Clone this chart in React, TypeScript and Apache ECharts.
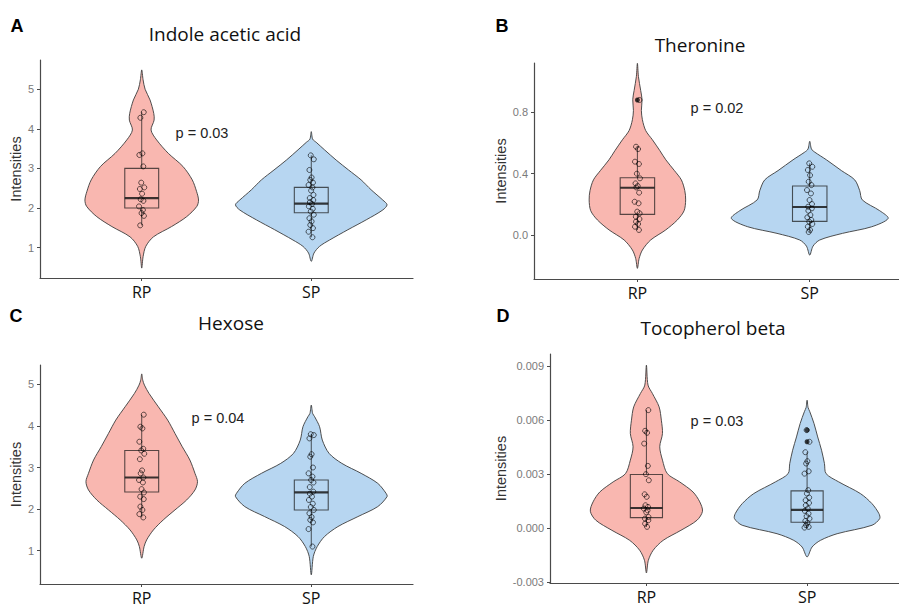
import React, { useEffect, useRef } from 'react';
import * as echarts from 'echarts';

const categories = ['RP', 'SP'];

// ---------- Panel A: Indole acetic acid ----------
const iaaRP = [4.42, 4.28, 3.38, 3.34, 3.05, 2.64, 2.52, 2.48, 2.36, 2.22, 2.18, 2.04, 1.95, 1.87, 1.8, 1.56];
const iaaSP = [3.33, 3.23, 2.96, 2.77, 2.71, 2.64, 2.58, 2.52, 2.44, 2.33, 2.25, 2.2, 2.15, 2.1, 2.04, 1.98, 1.91, 1.83, 1.74, 1.66, 1.57, 1.49, 1.4, 1.26];
const iaaBoxRP = [1.56, 2.0, 2.25, 3.0, 4.42];
const iaaBoxSP = [1.26, 1.88, 2.11, 2.52, 3.33];
const iaaOutRP: number[] = [];
const iaaOutSP: number[] = [];
// violin profile: [value, half-width in category units]
const iaaViolinRP = [[5.49, 0], [5.24, 0.008], [5.0, 0.02], [4.73, 0.049], [4.39, 0.071], [4.22, 0.073], [3.97, 0.055], [3.72, 0.088], [3.38, 0.157], [3.05, 0.243], [2.71, 0.298], [2.41, 0.324], [2.2, 0.335], [2.04, 0.325], [1.78, 0.265], [1.53, 0.176], [1.27, 0.069], [1.03, 0.024], [0.77, 0.008], [0.48, 0]];
const iaaViolinSP = [[3.93, 0], [3.74, 0.008], [3.66, 0.029], [3.47, 0.078], [3.21, 0.147], [2.96, 0.22], [2.71, 0.294], [2.46, 0.353], [2.2, 0.422], [2.08, 0.447], [1.95, 0.422], [1.7, 0.324], [1.45, 0.216], [1.19, 0.108], [1.03, 0.049], [0.86, 0.016], [0.65, 0]];
const iaaTicks = [1, 2, 3, 4, 5];

// ---------- Panel B: Theronine ----------
const thrRP = [0.878, 0.575, 0.56, 0.478, 0.463, 0.4, 0.37, 0.337, 0.32, 0.311, 0.277, 0.218, 0.208, 0.154, 0.143, 0.121, 0.106, 0.089, 0.074, 0.056, 0.035];
const thrSP = [0.467, 0.445, 0.424, 0.39, 0.348, 0.326, 0.294, 0.272, 0.229, 0.203, 0.186, 0.175, 0.16, 0.132, 0.117, 0.1, 0.089, 0.074, 0.056, 0.035, 0.022];
const thrBoxRP = [0.035, 0.136, 0.309, 0.374, 0.575];
const thrBoxSP = [0.022, 0.091, 0.184, 0.32, 0.467];
const thrOutRP = [0.878];
const thrOutSP: number[] = [];
const thrViolinRP = [[1.116, 0], [1.03, 0.006], [0.94, 0.019], [0.88, 0.027], [0.81, 0.023], [0.75, 0.029], [0.68, 0.048], [0.62, 0.087], [0.55, 0.13], [0.49, 0.165], [0.42, 0.215], [0.36, 0.255], [0.29, 0.275], [0.23, 0.28], [0.16, 0.271], [0.1, 0.232], [0.035, 0.164], [-0.03, 0.077], [-0.095, 0.029], [-0.15, 0.01], [-0.214, 0]];
const thrViolinSP = [[0.61, 0], [0.56, 0.01], [0.54, 0.029], [0.49, 0.097], [0.42, 0.184], [0.36, 0.261], [0.29, 0.29], [0.23, 0.305], [0.16, 0.406], [0.11, 0.455], [0.056, 0.36], [0.013, 0.19], [-0.03, 0.058], [-0.07, 0.019], [-0.128, 0]];
const thrTicks = [0, 0.4, 0.8];

// ---------- Panel C: Hexose ----------
const hexRP = [4.27, 3.98, 3.94, 3.62, 3.45, 3.41, 3.33, 3.2, 2.93, 2.86, 2.76, 2.7, 2.64, 2.48, 2.4, 2.3, 2.24, 2.06, 1.98, 1.88, 1.8];
const hexSP = [3.8, 3.78, 3.7, 3.32, 3.26, 3.0, 2.86, 2.78, 2.7, 2.64, 2.53, 2.42, 2.37, 2.3, 2.22, 2.13, 2.05, 1.98, 1.9, 1.81, 1.74, 1.68, 1.52, 1.1];
const hexBoxRP = [1.8, 2.41, 2.76, 3.41, 4.27];
const hexBoxSP = [1.1, 1.98, 2.4, 2.7, 3.8];
const hexOutRP: number[] = [];
const hexOutSP: number[] = [];
const hexViolinRP = [[5.25, 0], [5.1, 0.006], [4.98, 0.016], [4.78, 0.043], [4.46, 0.098], [4.14, 0.153], [3.82, 0.196], [3.5, 0.239], [3.18, 0.284], [2.86, 0.314], [2.66, 0.329], [2.46, 0.314], [2.22, 0.265], [1.98, 0.196], [1.74, 0.127], [1.5, 0.069], [1.26, 0.029], [1.1, 0.014], [0.82, 0]];
const hexViolinSP = [[4.5, 0], [4.3, 0.008], [4.22, 0.02], [3.98, 0.049], [3.66, 0.065], [3.34, 0.105], [3.1, 0.18], [2.86, 0.294], [2.62, 0.392], [2.38, 0.441], [2.3, 0.447], [2.06, 0.392], [1.82, 0.275], [1.58, 0.157], [1.34, 0.078], [1.1, 0.035], [0.86, 0.012], [0.42, 0]];
const hexTicks = [1, 2, 3, 4, 5];

// ---------- Panel D: Tocopherol beta ----------
const tocRP = [0.00655, 0.0054, 0.00529, 0.00469, 0.00345, 0.00299, 0.00265, 0.00187, 0.00173, 0.00126, 0.00117, 0.00108, 0.00098, 0.00087, 0.00061, 0.00052, 0.00043, 0.00024, 0.00006];
const tocSP = [0.00544, 0.00479, 0.00421, 0.00371, 0.00358, 0.00315, 0.00302, 0.0021, 0.00191, 0.00169, 0.00154, 0.00139, 0.00126, 0.00108, 0.00095, 0.0008, 0.00065, 0.00052, 0.00039, 0.00028, 0.00015, 0.00006, 0.00002];
const tocBoxRP = [0.00006, 0.000575, 0.00111, 0.00297, 0.00655];
const tocBoxSP = [0.00002, 0.000315, 0.001, 0.00206, 0.00421];
const tocOutRP: number[] = [];
const tocOutSP = [0.00544, 0.00479];
const tocViolinRP = [[0.00905, 0], [0.00794, 0.01], [0.00748, 0.037], [0.00673, 0.079], [0.00599, 0.093], [0.00525, 0.1], [0.00451, 0.083], [0.00377, 0.1], [0.00302, 0.13], [0.00256, 0.207], [0.002, 0.29], [0.00145, 0.332], [0.00093, 0.349], [0.00043, 0.315], [-0.00013, 0.215], [-0.00069, 0.104], [-0.00124, 0.042], [-0.0018, 0.012], [-0.0025, 0]];
const tocViolinSP = [[0.0071, 0], [0.0067, 0.006], [0.00646, 0.017], [0.00581, 0.043], [0.00506, 0.066], [0.00432, 0.09], [0.00358, 0.108], [0.00302, 0.118], [0.00256, 0.197], [0.00191, 0.332], [0.00135, 0.404], [0.0008, 0.447], [0.00052, 0.452], [0.00015, 0.404], [-0.00032, 0.187], [-0.00069, 0.083], [-0.00106, 0.031], [-0.00161, 0]];
const tocTicks = [-0.003, 0, 0.003, 0.006, 0.009];

// ---------- layout / style ----------
const JITTER = [0.012, -0.008, 0.004, -0.014, 0.009, -0.003, 0.015, -0.011, 0.002, -0.006, 0.01, -0.016, 0.007, -0.001, 0.013, -0.009];
const FILLS = ['#F9B7B0', '#B7D6F1'];
const OUTLINE = '#3c3c3c';
const BOX_STROKE = 'rgba(25,25,25,0.72)';

const panels = [
  {
    letter: 'A', title: 'Indole acetic acid', p: 'p = 0.03',
    letterPos: [17, 26], titlePos: [225, 34], pPos: [202, 133],
    grid: { left: 40, top: 60, width: 373, height: 218 }, yMin: 0.23, yMax: 5.74, xMax: 2.6,
    ticks: iaaTicks, dec: 0, nameGap: 15,
    pts: [iaaRP, iaaSP], boxes: [iaaBoxRP, iaaBoxSP], outs: [iaaOutRP, iaaOutSP], violins: [iaaViolinRP, iaaViolinSP],
  },
  {
    letter: 'B', title: 'Theronine', p: 'p = 0.02',
    letterPos: [502, 26], titlePos: [700, 44.5], pPos: [717, 107.5],
    grid: { left: 534, top: 63, width: 365, height: 216 }, yMin: -0.283, yMax: 1.118, xMax: 2.518,
    ticks: thrTicks, dec: 1, nameGap: 26,
    pts: [thrRP, thrSP], boxes: [thrBoxRP, thrBoxSP], outs: [thrOutRP, thrOutSP], violins: [thrViolinRP, thrViolinSP],
  },
  {
    letter: 'C', title: 'Hexose', p: 'p = 0.04',
    letterPos: [16, 316], titlePos: [231, 323], pPos: [218, 417.5],
    grid: { left: 40, top: 365, width: 373, height: 219 }, yMin: 0.2, yMax: 5.464, xMax: 2.6,
    ticks: hexTicks, dec: 0, nameGap: 15,
    pts: [hexRP, hexSP], boxes: [hexBoxRP, hexBoxSP], outs: [hexOutRP, hexOutSP], violins: [hexViolinRP, hexViolinSP],
  },
  {
    letter: 'D', title: 'Tocopherol beta', p: 'p = 0.03',
    letterPos: [503, 316], titlePos: [713, 328], pPos: [717, 421],
    grid: { left: 550, top: 354, width: 349, height: 229 }, yMin: -0.00306, yMax: 0.00967, xMax: 2.572,
    ticks: tocTicks, dec: 3, nameGap: 42,
    pts: [tocRP, tocSP], boxes: [tocBoxRP, tocBoxSP], outs: [tocOutRP, tocOutSP], violins: [tocViolinRP, tocViolinSP],
  },
];

function buildOption() {
  const grid: any[] = [];
  const xAxis: any[] = [];
  const yAxis: any[] = [];
  const series: any[] = [];
  const graphic: any[] = [];

  panels.forEach((pn, gi) => {
    grid.push({ ...pn.grid, containLabel: false, outerBoundsMode: 'none' });
    xAxis.push({
      type: 'value', gridIndex: gi, min: 0.4, max: pn.xMax,
      axisLine: { show: true, onZero: false, lineStyle: { color: '#4a4a4a', width: 1.2 } },
      axisTick: { show: true, customValues: [1, 2], length: 3, lineStyle: { color: '#4a4a4a' } },
      axisLabel: {
        customValues: [1, 2], formatter: (v: number) => categories[Math.round(v) - 1] || '',
        fontSize: 16, color: '#111', fontFamily: 'Open Sans', margin: 5, lineHeight: 17,
      },
      splitLine: { show: false },
    });
    yAxis.push({
      type: 'value', gridIndex: gi, min: pn.yMin, max: pn.yMax,
      axisLine: { show: true, onZero: false, lineStyle: { color: '#4a4a4a', width: 1.2 } },
      axisTick: { show: true, customValues: pn.ticks, length: 3, lineStyle: { color: '#4a4a4a' } },
      axisLabel: {
        customValues: pn.ticks, formatter: (v: number) => v.toFixed(pn.dec),
        fontSize: 11, color: '#7a7a7a', fontFamily: 'Liberation Sans', margin: 6,
      },
      splitLine: { show: false },
      name: 'Intensities', nameLocation: 'middle', nameGap: pn.nameGap, nameRotate: 90,
      nameTextStyle: { fontSize: 14.5, color: '#333', fontFamily: 'Liberation Sans' },
    });

    // violins
    series.push({
      type: 'custom', xAxisIndex: gi, yAxisIndex: gi, z: 1,
      data: [[1, 0], [2, 0]],
      renderItem: (params: any, api: any) => {
        const idx = params.dataIndex;
        const prof = pn.violins[idx];
        const cx = idx + 1;
        const left = prof.map(([v, hw]) => api.coord([cx - hw, v]));
        const right = prof.slice(1, -1).reverse().map(([v, hw]) => api.coord([cx + hw, v]));
        return {
          type: 'polygon',
          shape: { points: left.concat(right), smooth: 0.3 },
          style: { fill: FILLS[idx], stroke: OUTLINE, lineWidth: 0.9 },
        };
      },
    });

    // boxes
    series.push({
      type: 'custom', xAxisIndex: gi, yAxisIndex: gi, z: 2,
      data: pn.boxes.map((b, i) => [i + 1, ...b]),
      renderItem: (params: any, api: any) => {
        const cx = api.value(0);
        const mn = api.value(1), q1 = api.value(2), md = api.value(3), q3 = api.value(4), mx = api.value(5);
        const hw = 0.1;
        const tl = api.coord([cx - hw, q3]);
        const br = api.coord([cx + hw, q1]);
        const ml = api.coord([cx - hw, md]);
        const mr = api.coord([cx + hw, md]);
        const top = api.coord([cx, mx]);
        const q3c = api.coord([cx, q3]);
        const q1c = api.coord([cx, q1]);
        const bot = api.coord([cx, mn]);
        return {
          type: 'group',
          children: [
            { type: 'line', shape: { x1: top[0], y1: top[1], x2: q3c[0], y2: q3c[1] }, style: { stroke: BOX_STROKE, lineWidth: 1 } },
            { type: 'line', shape: { x1: q1c[0], y1: q1c[1], x2: bot[0], y2: bot[1] }, style: { stroke: BOX_STROKE, lineWidth: 1 } },
            { type: 'rect', shape: { x: tl[0], y: tl[1], width: br[0] - tl[0], height: br[1] - tl[1] }, style: { fill: 'none', stroke: BOX_STROKE, lineWidth: 1.1 } },
            { type: 'line', shape: { x1: ml[0], y1: ml[1], x2: mr[0], y2: mr[1] }, style: { stroke: 'rgba(25,25,25,0.85)', lineWidth: 2.2 } },
          ],
        };
      },
    });

    // outliers (filled)
    const outData: number[][] = [];
    pn.outs.forEach((arr, ci) => arr.forEach((v) => outData.push([ci + 1, v])));
    series.push({
      type: 'scatter', xAxisIndex: gi, yAxisIndex: gi, z: 3,
      symbol: 'circle', symbolSize: 5,
      itemStyle: { color: '#111', borderWidth: 0 },
      data: outData,
    });

    // jittered points (open)
    const ptData: number[][] = [];
    pn.pts.forEach((arr, ci) => arr.forEach((v, i) => ptData.push([ci + 1 + JITTER[(i + ci * 5) % JITTER.length], v])));
    series.push({
      type: 'scatter', xAxisIndex: gi, yAxisIndex: gi, z: 4,
      symbol: 'circle', symbolSize: 5,
      itemStyle: { color: 'rgba(0,0,0,0)', borderColor: 'rgba(0,0,0,0.85)', borderWidth: 0.9 },
      data: ptData,
    });

    const txt = (text: string, pos: number[], fontSize: number, fontFamily: string, fontWeight: string, fill: string) => ({
      type: 'text', x: pos[0], y: pos[1], z: 10,
      style: {
        text, fontSize, fontFamily, fontWeight, fill,
        align: 'center', verticalAlign: 'middle', textAlign: 'center', textVerticalAlign: 'middle',
      },
    });
    graphic.push(txt(pn.letter, pn.letterPos, 18, 'Liberation Sans', 'bold', '#000'));
    graphic.push(txt(pn.title, pn.titlePos, 19, 'Open Sans', 'normal', '#111'));
    graphic.push(txt(pn.p, pn.pPos, 14.5, 'Liberation Sans', 'normal', '#222'));
  });

  return {
    animation: false,
    backgroundColor: '#fff',
    grid, xAxis, yAxis, series, graphic,
  };
}

export default function App() {
  const ref = useRef<HTMLDivElement>(null);
  useEffect(() => {
    document.body.style.margin = '0';
    if (!ref.current) return;
    const chart = echarts.init(ref.current, undefined, { renderer: 'svg' });
    chart.setOption(buildOption() as any);
    return () => chart.dispose();
  }, []);
  return <div ref={ref} style={{ width: 899, height: 608 }} />;
}
